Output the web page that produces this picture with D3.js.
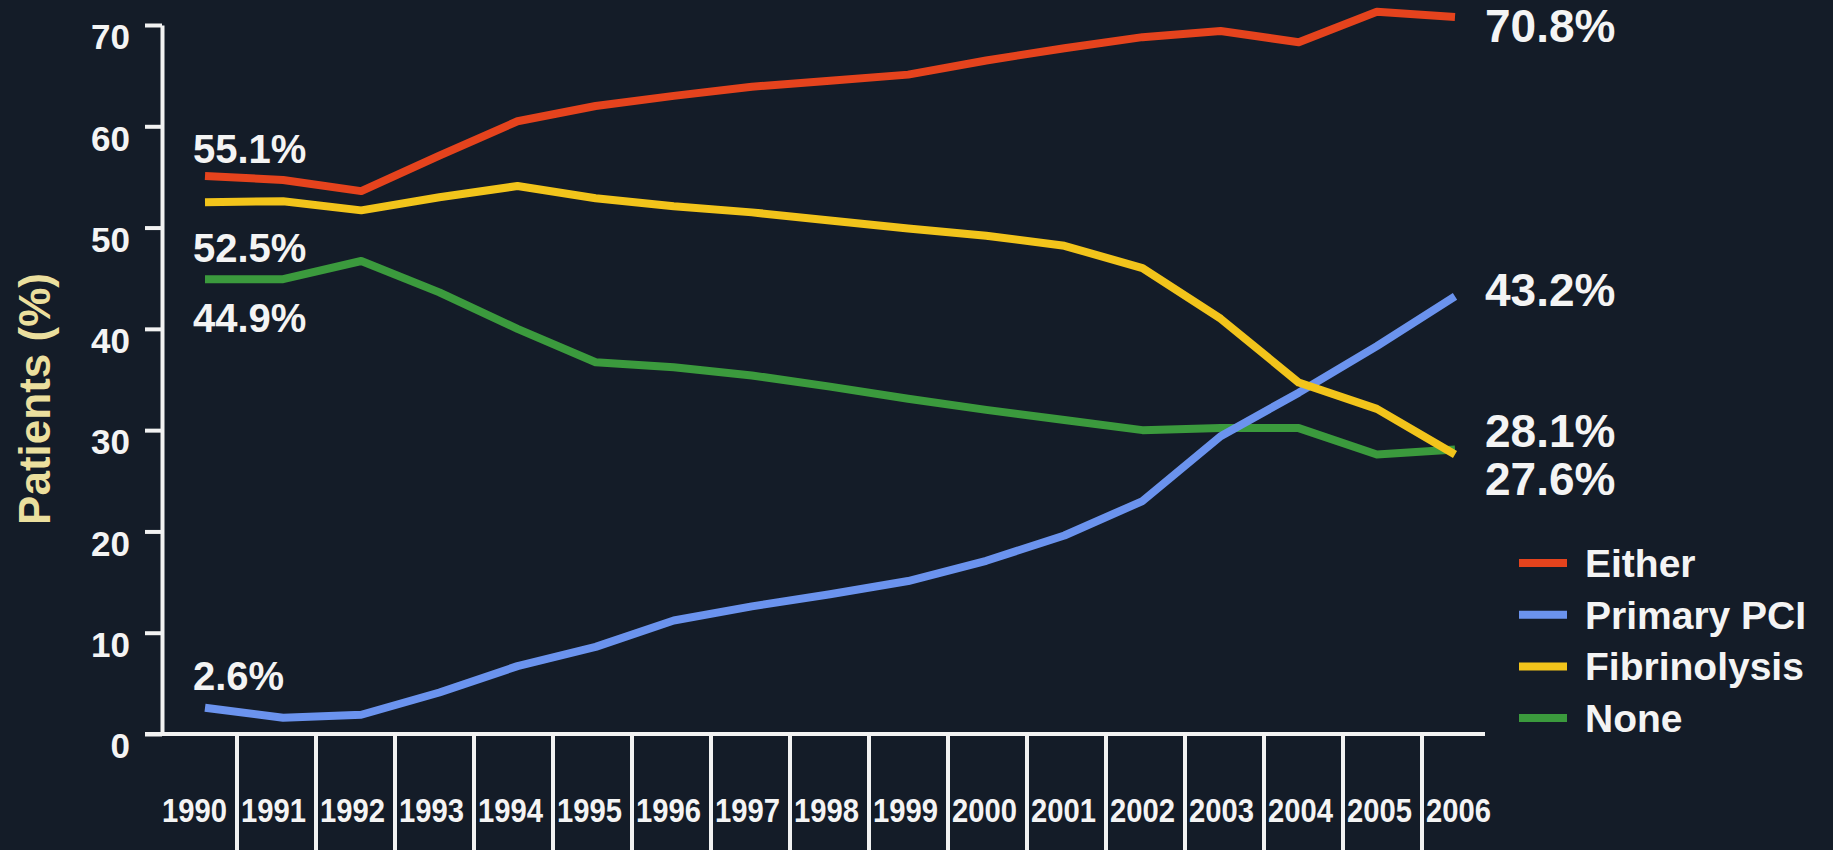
<!DOCTYPE html>
<html>
<head>
<meta charset="utf-8">
<script src="https://cdn.jsdelivr.net/npm/d3@7"></script>
<style>
  html, body { margin: 0; padding: 0; background: #141c28; }
  svg { display: block; }
  text { font-family: "Liberation Sans", Arial, sans-serif; }
</style>
</head>
<body>
<svg id="chart" width="1833" height="850"></svg>
<script>
// Reperfusion therapy among STEMI patients, 1990–2006 (% of patients)
const years = [1990, 1991, 1992, 1993, 1994, 1995, 1996, 1997, 1998,
               1999, 2000, 2001, 2002, 2003, 2004, 2005, 2006];

const either       = [55.1, 54.7, 53.6, 57.1, 60.5, 62.0, 63.0, 63.9, 64.5,
                      65.1, 66.5, 67.7, 68.8, 69.4, 68.3, 71.3, 70.8];
const primaryPCI   = [2.6, 1.6, 1.9, 4.1, 6.7, 8.6, 11.2, 12.6, 13.8,
                      15.1, 17.1, 19.6, 23.0, 29.4, 33.7, 38.3, 43.2];
const fibrinolysis = [52.5, 52.6, 51.7, 53.0, 54.1, 52.9, 52.1, 51.5, 50.7,
                      49.9, 49.2, 48.2, 46.0, 41.0, 34.7, 32.1, 27.6];
const none         = [44.9, 44.9, 46.7, 43.6, 40.0, 36.7, 36.2, 35.4, 34.3,
                      33.1, 32.0, 31.0, 30.0, 30.2, 30.2, 27.6, 28.1];

const seriesNames = ["Either", "Primary PCI", "Fibrinolysis", "None"];
const yTicks = [0, 10, 20, 30, 40, 50, 60, 70];

const colors = {
  "Either": "#e5431d",
  "Primary PCI": "#6b93ee",
  "Fibrinolysis": "#f2c41b",
  "None": "#3b9a3d"
};

const valuesByName = {
  "Either": either,
  "Primary PCI": primaryPCI,
  "Fibrinolysis": fibrinolysis,
  "None": none
};

const svg = d3.select("#chart");
const W = 1833, H = 850;

svg.append("rect").attr("width", W).attr("height", H).attr("fill", "#141c28");

// Scales
const y = d3.scaleLinear().domain([0, 70]).range([734, 25]);
const x = d3.scalePoint().domain(years).range([205, 1455]);
const band = d3.scaleBand().domain(years).range([158, 1501]).padding(0);

const axisColor = "#f2f2f2";
const textColor = "#f4f4f4";

// Y axis
const yAxis = d3.axisLeft(y).tickValues(yTicks).tickSize(17).tickSizeOuter(0).tickPadding(15);
const gy = svg.append("g").attr("transform", "translate(162,0)").call(yAxis);
gy.select(".domain").attr("stroke", axisColor).attr("stroke-width", 4);
gy.selectAll(".tick line").attr("stroke", axisColor).attr("stroke-width", 4);
gy.selectAll(".tick text")
  .attr("fill", textColor)
  .attr("font-size", 35)
  .attr("font-weight", "bold")
  .attr("dy", "0.68em")
  .attr("x", -32);

// X axis baseline
svg.append("line")
  .attr("x1", 145).attr("x2", 1485)
  .attr("y1", y(0)).attr("y2", y(0))
  .attr("stroke", axisColor).attr("stroke-width", 4);

// Year dividers hanging below the baseline
svg.append("g").selectAll("line")
  .data(years.slice(1))
  .join("line")
  .attr("x1", d => band(d)).attr("x2", d => band(d))
  .attr("y1", y(0)).attr("y2", H)
  .attr("stroke", axisColor).attr("stroke-width", 4);

// Year labels (condensed)
svg.append("g").selectAll("text")
  .data(years)
  .join("text")
  .attr("transform", d => `translate(${band(d) + band.bandwidth() / 2 - 3},822) scale(0.86,1)`)
  .attr("text-anchor", "middle")
  .attr("font-size", 34)
  .attr("font-weight", "bold")
  .attr("fill", textColor)
  .text(d => d);

// Y axis title
svg.append("text")
  .attr("transform", "translate(50,399) rotate(-90)")
  .attr("text-anchor", "middle")
  .attr("font-size", 44)
  .attr("font-weight", "bold")
  .attr("fill", "#ebdf9e")
  .text("Patients (%)");

// Series lines
const line = d3.line()
  .x((d, i) => x(years[i]))
  .y(d => y(d));

const drawOrder = ["None", "Primary PCI", "Fibrinolysis", "Either"];
svg.append("g").selectAll("path")
  .data(drawOrder)
  .join("path")
  .attr("d", name => line(valuesByName[name]))
  .attr("fill", "none")
  .attr("stroke", name => colors[name])
  .attr("stroke-width", 8)
  .attr("stroke-linejoin", "round");

// Start and end value labels
const fmt = v => d3.format(".1f")(v) + "%";
const startLabels = [
  { name: "Either", dy: -13 },
  { name: "Fibrinolysis", dy: 60 },
  { name: "None", dy: 53 },
  { name: "Primary PCI", dy: -18 }
];
const endLabels = [
  { name: "Either", dy: 25 },
  { name: "Primary PCI", dy: 10 },
  { name: "None", dy: -2 },
  { name: "Fibrinolysis", dy: 41 }
];

svg.append("g").selectAll("text")
  .data(startLabels)
  .join("text")
  .attr("x", x(years[0]) - 12)
  .attr("y", d => y(valuesByName[d.name][0]) + d.dy)
  .attr("font-size", 40)
  .attr("font-weight", "bold")
  .attr("fill", textColor)
  .text(d => fmt(valuesByName[d.name][0]));

const last = years.length - 1;
svg.append("g").selectAll("text")
  .data(endLabels)
  .join("text")
  .attr("x", 1485)
  .attr("y", d => y(valuesByName[d.name][last]) + d.dy)
  .attr("font-size", 46)
  .attr("font-weight", "bold")
  .attr("fill", textColor)
  .text(d => fmt(valuesByName[d.name][last]));

// Legend
const legend = svg.append("g").attr("transform", "translate(1519,563)");
const rows = legend.selectAll("g")
  .data(seriesNames)
  .join("g")
  .attr("transform", (d, i) => `translate(0,${i * 51.7})`);
rows.append("line")
  .attr("x1", 0).attr("x2", 48)
  .attr("y1", 0).attr("y2", 0)
  .attr("stroke", d => colors[d])
  .attr("stroke-width", 8);
rows.append("text")
  .attr("x", 66)
  .attr("y", 14)
  .attr("font-size", 39)
  .attr("font-weight", "bold")
  .attr("fill", textColor)
  .text(d => d);
</script>
</body>
</html>
